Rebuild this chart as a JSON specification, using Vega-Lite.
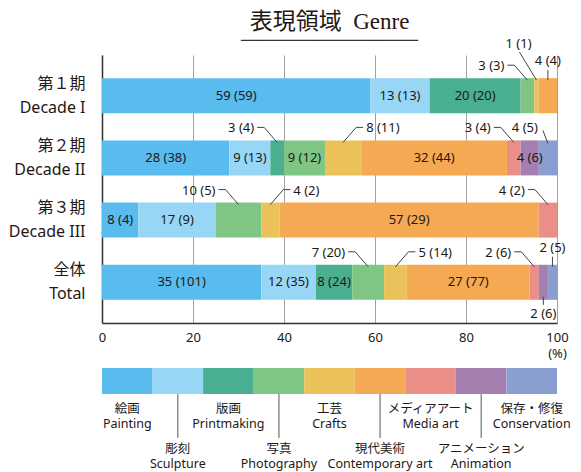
{
  "$schema": "https://vega.github.io/schema/vega-lite/v6.json",
  "background": "white",
  "padding": {"left": 5, "top": 11, "right": 5, "bottom": 0},
  "config": {"view": {"stroke": null}, "font": "Noto Sans"},
  "spacing": 8,
  "datasets": {
    "genres": [
      {"i": 1, "genre": "Painting", "ja": "絵画"},
      {"i": 2, "genre": "Sculpture", "ja": "彫刻"},
      {"i": 3, "genre": "Printmaking", "ja": "版画"},
      {"i": 4, "genre": "Photography", "ja": "写真"},
      {"i": 5, "genre": "Crafts", "ja": "工芸"},
      {"i": 6, "genre": "Contemporary art", "ja": "現代美術"},
      {"i": 7, "genre": "Media art", "ja": "メディアアート"},
      {"i": 8, "genre": "Animation", "ja": "アニメーション"},
      {"i": 9, "genre": "Conservation", "ja": "保存・修復"}
    ],
    "shares": [
      {"period": "第１期\nDecade I", "genre": "Painting", "pct": 59, "n": 59, "place": "in"},
      {"period": "第１期\nDecade I", "genre": "Sculpture", "pct": 13, "n": 13, "place": "in"},
      {"period": "第１期\nDecade I", "genre": "Printmaking", "pct": 20, "n": 20, "place": "in"},
      {"period": "第１期\nDecade I", "genre": "Photography", "pct": 3, "n": 3, "place": "L"},
      {"period": "第１期\nDecade I", "genre": "Crafts", "pct": 1, "n": 1, "place": "L2"},
      {"period": "第１期\nDecade I", "genre": "Contemporary art", "pct": 4, "n": 4, "place": "U"},
      {"period": "第２期\nDecade II", "genre": "Painting", "pct": 28, "n": 38, "place": "in"},
      {"period": "第２期\nDecade II", "genre": "Sculpture", "pct": 9, "n": 13, "place": "in"},
      {"period": "第２期\nDecade II", "genre": "Printmaking", "pct": 3, "n": 4, "place": "L"},
      {"period": "第２期\nDecade II", "genre": "Photography", "pct": 9, "n": 12, "place": "in"},
      {"period": "第２期\nDecade II", "genre": "Crafts", "pct": 8, "n": 11, "place": "R"},
      {"period": "第２期\nDecade II", "genre": "Contemporary art", "pct": 32, "n": 44, "place": "in"},
      {"period": "第２期\nDecade II", "genre": "Media art", "pct": 3, "n": 4, "place": "L"},
      {"period": "第２期\nDecade II", "genre": "Animation", "pct": 4, "n": 6, "place": "in"},
      {"period": "第２期\nDecade II", "genre": "Conservation", "pct": 4, "n": 5, "place": "Ls"},
      {"period": "第３期\nDecade III", "genre": "Painting", "pct": 8, "n": 4, "place": "in"},
      {"period": "第３期\nDecade III", "genre": "Sculpture", "pct": 17, "n": 9, "place": "in"},
      {"period": "第３期\nDecade III", "genre": "Photography", "pct": 10, "n": 5, "place": "L"},
      {"period": "第３期\nDecade III", "genre": "Crafts", "pct": 4, "n": 2, "place": "R"},
      {"period": "第３期\nDecade III", "genre": "Contemporary art", "pct": 57, "n": 29, "place": "in"},
      {"period": "第３期\nDecade III", "genre": "Media art", "pct": 4, "n": 2, "place": "L"},
      {"period": "全体\nTotal", "genre": "Painting", "pct": 35, "n": 101, "place": "in"},
      {"period": "全体\nTotal", "genre": "Sculpture", "pct": 12, "n": 35, "place": "in"},
      {"period": "全体\nTotal", "genre": "Printmaking", "pct": 8, "n": 24, "place": "in"},
      {"period": "全体\nTotal", "genre": "Photography", "pct": 7, "n": 20, "place": "L"},
      {"period": "全体\nTotal", "genre": "Crafts", "pct": 5, "n": 14, "place": "R"},
      {"period": "全体\nTotal", "genre": "Contemporary art", "pct": 27, "n": 77, "place": "in"},
      {"period": "全体\nTotal", "genre": "Media art", "pct": 2, "n": 6, "place": "L"},
      {"period": "全体\nTotal", "genre": "Animation", "pct": 2, "n": 6, "place": "D"},
      {"period": "全体\nTotal", "genre": "Conservation", "pct": 2, "n": 5, "place": "U"}
    ]
  },
  "vconcat": [
    {
      "width": 455,
      "height": 268,
      "title": {
        "text": "表現領域\u2002Genre",
        "subtitle": "─────────────────────",
        "font": "Liberation Serif, Noto Sans CJK JP",
        "fontSize": 23,
        "fontWeight": "normal",
        "color": "#231815",
        "subtitleFont": "DejaVu Sans",
        "subtitleFontSize": 14,
        "subtitleColor": "#333333",
        "subtitlePadding": 0,
        "anchor": "middle",
        "offset": -10
      },
      "data": {"name": "shares"},
      "transform": [
        {"lookup": "genre", "from": {"data": {"name": "genres"}, "key": "genre", "fields": ["i"]}},
        {"stack": "pct", "groupby": ["period"], "sort": [{"field": "i", "order": "ascending"}], "as": ["x0", "x1"]},
        {"calculate": "(datum.x0 + datum.x1) / 2", "as": "mid"},
        {"calculate": "datum.pct + ' (' + datum.n + ')'", "as": "label"}
      ],
      "layer": [
        {
          "mark": {"type": "bar"},
          "encoding": {
            "y": {
              "field": "period", "type": "nominal",
              "scale": {"domain": ["第１期\nDecade I", "第２期\nDecade II", "第３期\nDecade III", "全体\nTotal"], "paddingInner": 0.437, "paddingOuter": 0.373},
              "axis": {
                "title": null, "domainColor": "#333333", "domainWidth": 1.5, "ticks": false,
                "labelPadding": 17, "labelFontSize": 16, "labelLineHeight": 24, "labelColor": "#231815",
                "labelFont": "Noto Sans, Noto Sans CJK JP", "minExtent": 97, "maxExtent": 97,
                "labelOffset": -12,
                "labelExpr": "split(datum.value, '\\n')"
              }
            },
            "x": {
              "field": "x0", "type": "quantitative",
              "scale": {"domain": [0, 100], "nice": false},
              "axis": {
                "title": null, "values": [0, 20, 40, 60, 80, 100], "grid": true, "gridColor": "#a0a0a0",
                "gridWidth": 1, "ticks": false, "domainColor": "#333333", "domainWidth": 1.5,
                "labelFontSize": 13, "labelColor": "#231815", "labelPadding": 8, "labelLineHeight": 16,
                "labelFlush": false, "labelFont": "Noto Sans",
                "labelExpr": "datum.value == 100 ? ['100', '(%)'] : datum.label"
              }
            },
            "x2": {"field": "x1"},
            "color": {
              "field": "genre", "type": "nominal", "legend": null,
              "scale": {
                "domain": ["Painting", "Sculpture", "Printmaking", "Photography", "Crafts", "Contemporary art", "Media art", "Animation", "Conservation"],
                "range": ["#59bbee", "#98d6f6", "#4aaf90", "#7fc684", "#ebc25a", "#f5a952", "#ea8f87", "#a57fb0", "#8a9ecf"]
              }
            }
          }
        },
        {
          "transform": [{"filter": "datum.place == 'in'"}],
          "mark": {"type": "text", "fontSize": 13, "color": "#231815", "baseline": "middle"},
          "encoding": {
            "x": {"field": "mid", "type": "quantitative"},
            "y": {"field": "period", "type": "nominal"},
            "text": {"field": "label"}
          }
        },
        {
          "transform": [{"filter": "datum.place == 'L'"}],
          "encoding": {
            "x": {"field": "mid", "type": "quantitative"},
            "y": {"field": "period", "type": "nominal", "bandPosition": 0}
          },
          "layer": [
            {"mark": {"type": "text", "fontSize": 13, "color": "#231815", "align": "right", "baseline": "middle", "dx": -23, "dy": -12}, "encoding": {"text": {"field": "label"}}},
            {"mark": {"type": "rule", "color": "#444444", "strokeWidth": 1, "yOffset": 2, "x2Offset": -13, "y2Offset": -13}, "encoding": {"x2": {"field": "mid"}, "y2": {"field": "period", "bandPosition": 0}}},
            {"mark": {"type": "rule", "color": "#444444", "strokeWidth": 1, "xOffset": -13, "yOffset": -13, "x2Offset": -20, "y2Offset": -13}, "encoding": {"x2": {"field": "mid"}, "y2": {"field": "period", "bandPosition": 0}}}
          ]
        },
        {
          "transform": [{"filter": "datum.place == 'R'"}],
          "encoding": {
            "x": {"field": "mid", "type": "quantitative"},
            "y": {"field": "period", "type": "nominal", "bandPosition": 0}
          },
          "layer": [
            {"mark": {"type": "text", "fontSize": 13, "color": "#231815", "align": "left", "baseline": "middle", "dx": 23, "dy": -12}, "encoding": {"text": {"field": "label"}}},
            {"mark": {"type": "rule", "color": "#444444", "strokeWidth": 1, "yOffset": 2, "x2Offset": 13, "y2Offset": -13}, "encoding": {"x2": {"field": "mid"}, "y2": {"field": "period", "bandPosition": 0}}},
            {"mark": {"type": "rule", "color": "#444444", "strokeWidth": 1, "xOffset": 13, "yOffset": -13, "x2Offset": 20, "y2Offset": -13}, "encoding": {"x2": {"field": "mid"}, "y2": {"field": "period", "bandPosition": 0}}}
          ]
        },
        {
          "transform": [{"filter": "datum.place == 'Ls'"}],
          "encoding": {
            "x": {"field": "mid", "type": "quantitative"},
            "y": {"field": "period", "type": "nominal", "bandPosition": 0}
          },
          "layer": [
            {"mark": {"type": "text", "fontSize": 13, "color": "#231815", "align": "right", "baseline": "middle", "dx": -10, "dy": -12}, "encoding": {"text": {"field": "label"}}},
            {"mark": {"type": "rule", "color": "#444444", "strokeWidth": 1, "yOffset": 3, "x2Offset": -5, "y2Offset": -10}, "encoding": {"x2": {"field": "mid"}, "y2": {"field": "period", "bandPosition": 0}}}
          ]
        },
        {
          "transform": [{"filter": "datum.place == 'L2'"}],
          "encoding": {
            "x": {"field": "mid", "type": "quantitative"},
            "y": {"field": "period", "type": "nominal", "bandPosition": 0}
          },
          "layer": [
            {"mark": {"type": "text", "fontSize": 13, "color": "#231815", "align": "center", "baseline": "middle", "dx": -18, "dy": -34}, "encoding": {"text": {"field": "label"}}},
            {"mark": {"type": "rule", "color": "#444444", "strokeWidth": 1, "xOffset": -17, "yOffset": -26, "x2Offset": 0, "y2Offset": 2}, "encoding": {"x2": {"field": "mid"}, "y2": {"field": "period", "bandPosition": 0}}}
          ]
        },
        {
          "transform": [{"filter": "datum.place == 'U'"}],
          "encoding": {
            "x": {"field": "mid", "type": "quantitative"},
            "y": {"field": "period", "type": "nominal", "bandPosition": 0}
          },
          "layer": [
            {"mark": {"type": "text", "fontSize": 13, "color": "#231815", "align": "center", "baseline": "middle", "dy": -17}, "encoding": {"text": {"field": "label"}}},
            {"mark": {"type": "rule", "color": "#444444", "strokeWidth": 1, "yOffset": -8, "y2Offset": 2}, "encoding": {"x2": {"field": "mid"}, "y2": {"field": "period", "bandPosition": 0}}}
          ]
        },
        {
          "transform": [{"filter": "datum.place == 'D'"}],
          "encoding": {
            "x": {"field": "mid", "type": "quantitative"},
            "y": {"field": "period", "type": "nominal", "bandPosition": 1}
          },
          "layer": [
            {"mark": {"type": "text", "fontSize": 13, "color": "#231815", "align": "center", "baseline": "middle", "dy": 14}, "encoding": {"text": {"field": "label"}}},
            {"mark": {"type": "rule", "color": "#444444", "strokeWidth": 1, "yOffset": -3, "y2Offset": 5}, "encoding": {"x2": {"field": "mid"}, "y2": {"field": "period", "bandPosition": 1}}}
          ]
        }
      ]
    },
    {
      "width": 455,
      "height": 26,
      "data": {"name": "genres"},
      "encoding": {
        "x": {
          "field": "genre", "type": "nominal", "axis": null,
          "scale": {"domain": ["Painting", "Sculpture", "Printmaking", "Photography", "Crafts", "Contemporary art", "Media art", "Animation", "Conservation"], "paddingInner": 0, "paddingOuter": 0}
        }
      },
      "layer": [
        {
          "mark": {"type": "rect"},
          "encoding": {"color": {"field": "genre", "type": "nominal", "legend": null}}
        },
        {
          "transform": [{"filter": "datum.i % 2 == 1"}],
          "layer": [
            {"mark": {"type": "text", "font": "Noto Sans CJK JP", "fontSize": 12.5, "color": "#231815", "dy": 28}, "encoding": {"text": {"field": "ja"}}},
            {"mark": {"type": "text", "font": "Noto Sans", "fontSize": 12.5, "color": "#231815", "dy": 43}, "encoding": {"text": {"field": "genre"}}}
          ]
        },
        {
          "transform": [{"filter": "datum.i % 2 == 0"}],
          "layer": [
            {"mark": {"type": "rule", "color": "#555555", "strokeWidth": 1, "yOffset": 70}, "encoding": {}},
            {"mark": {"type": "text", "font": "Noto Sans CJK JP", "fontSize": 12.5, "color": "#231815", "dy": 68}, "encoding": {"text": {"field": "ja"}}},
            {"mark": {"type": "text", "font": "Noto Sans", "fontSize": 12.5, "color": "#231815", "dy": 83}, "encoding": {"text": {"field": "genre"}}}
          ]
        }
      ]
    }
  ]
}
